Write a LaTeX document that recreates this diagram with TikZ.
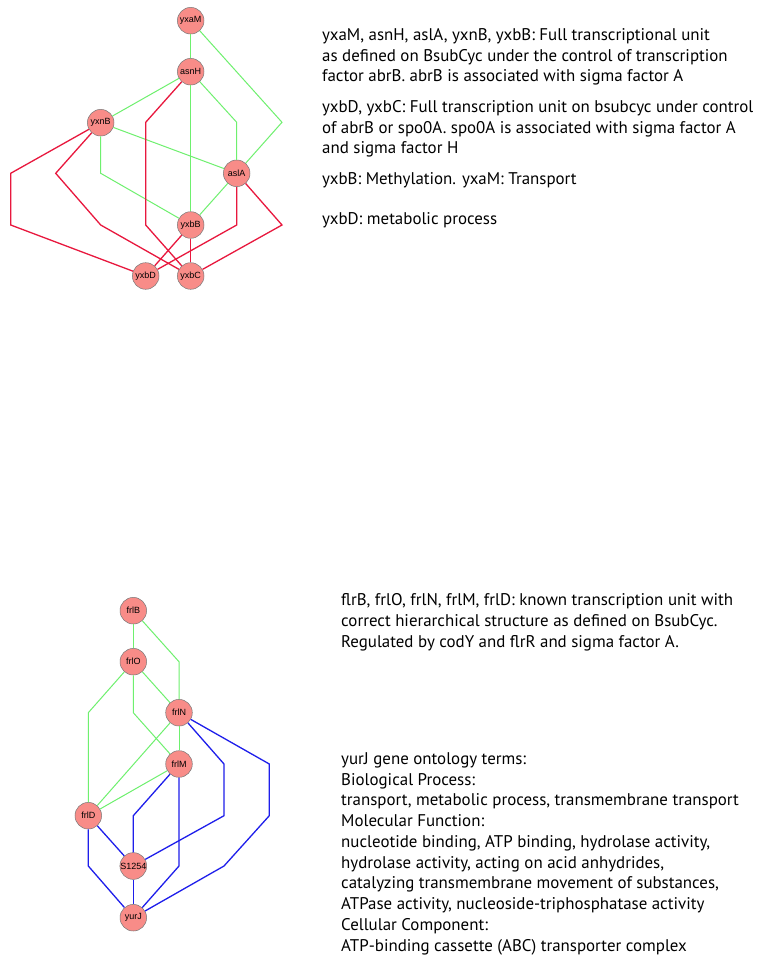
\documentclass[tikz,border=0pt]{standalone}
\usepackage{fontspec}
\setmainfont{PT Sans}
\newfontfamily\genefont{Liberation Sans}
\definecolor{genefill}{RGB}{248,140,136}
\definecolor{geneedge}{RGB}{120,120,120}
\definecolor{lgreen}{RGB}{110,240,110}
\definecolor{lred}{RGB}{232,24,62}
\definecolor{lblue}{RGB}{30,30,235}
\tikzset{
  gene/.style={circle, minimum size=26.6pt, inner sep=0pt, fill=genefill,
    draw=geneedge, line width=0.5pt, font=\genefont\fontsize{9}{10}\selectfont},
  gedge/.style={lgreen, line width=1pt},
  redge/.style={lred, line width=1.3pt},
  bedge/.style={lblue, line width=1.3pt},
  % multi-line notes are anchored at the baseline of their last line
  note/.style={anchor=base west, align=left, inner sep=0pt,
    font=\fontsize{16.9}{20.4}\selectfont},
  longnote/.style={note, font=\fontsize{16.9}{20.75}\selectfont},
}
\begin{document}
\begin{tikzpicture}[x=1pt, y=-1pt]
\useasboundingbox[fill=white] (0,0) rectangle (757,955);

% ---------- upper network ----------
\coordinate (u1) at (282,122.3);
\coordinate (u2) at (236.7,122.3);
\coordinate (u3) at (100.7,173.3);
\coordinate (r1a) at (145.7,122.3);
\coordinate (r1b) at (145.7,225);
\coordinate (r2a) at (10.7,173.3);
\coordinate (r2b) at (10.7,225);
\coordinate (r3a) at (55.7,173.3);
\coordinate (r3b) at (100.7,225);
\coordinate (r4) at (236.7,225);
\coordinate (r5) at (282,225);

\node[gene] (yxaM) at (190.7,20.7) {yxaM};
\node[gene] (asnH) at (190.7,71.7) {asnH};
\node[gene] (yxnB) at (100.7,122.7) {yxnB};
\node[gene] (aslA) at (236.7,173.3) {aslA};
\node[gene] (yxbB) at (190.7,225) {yxbB};
\node[gene] (yxbD) at (145.7,276) {yxbD};
\node[gene] (yxbC) at (190.7,276) {yxbC};

% ---------- lower network ----------
\coordinate (g1) at (179,661.7);
\coordinate (g2) at (88.3,712.7);
\coordinate (g3) at (133.3,712.7);
\coordinate (b1a) at (224,764);
\coordinate (b1b) at (224,815.7);
\coordinate (b2a) at (269.3,764);
\coordinate (b2b) at (269.3,815.7);
\coordinate (b2c) at (224,866);
\coordinate (b3) at (133.3,815.7);
\coordinate (b4) at (179,866);
\coordinate (b5) at (88.3,866);

\node[gene] (frlB) at (133.3,610.7) {frlB};
\node[gene] (frlO) at (133.3,661.7) {frlO};
\node[gene] (frlN) at (179,712.7) {frlN};
\node[gene] (frlM) at (179,764) {frlM};
\node[gene] (frlD) at (88.3,815.7) {frlD};
\node[gene] (S1254) at (133.3,866) {S1254};
\node[gene] (yurJ) at (133.3,917.7) {yurJ};

% connectors of the upper network
\draw[gedge] (yxaM) -- (asnH);
\draw[gedge] (yxaM) -- (u1) -- (aslA);
\draw[gedge] (asnH) -- (yxnB);
\draw[gedge] (asnH) -- (yxbB);
\draw[gedge] (asnH) -- (u2) -- (aslA);
\draw[gedge] (yxnB) -- (aslA);
\draw[gedge] (yxnB) -- (u3) -- (yxbB);
\draw[gedge] (aslA) -- (yxbB);
\draw[redge] (asnH) -- (r1a) -- (r1b) -- (yxbC);
\draw[redge] (yxnB) -- (r2a) -- (r2b) -- (yxbD);
\draw[redge] (yxnB) -- (r3a) -- (r3b) -- (yxbC);
\draw[redge] (aslA) -- (r4) -- (yxbD);
\draw[redge] (aslA) -- (r5) -- (yxbC);
\draw[redge] (yxbB) -- (yxbD);
\draw[redge] (yxbB) -- (yxbC);

% connectors of the lower network
\draw[gedge] (frlB) -- (frlO);
\draw[gedge] (frlB) -- (g1) -- (frlN);
\draw[gedge] (frlO) -- (g2) -- (frlD);
\draw[gedge] (frlO) -- (frlN);
\draw[gedge] (frlO) -- (g3) -- (frlM);
\draw[gedge] (frlN) -- (frlM);
\draw[gedge] (frlN) -- (frlD);
\draw[gedge] (frlM) -- (frlD);
\draw[bedge] (frlN) -- (b1a) -- (b1b) -- (S1254);
\draw[bedge] (frlN) -- (b2a) -- (b2b) -- (b2c) -- (yurJ);
\draw[bedge] (frlM) -- (b3) -- (S1254);
\draw[bedge] (frlM) -- (b4) -- (yurJ);
\draw[bedge] (frlD) -- (S1254);
\draw[bedge] (frlD) -- (b5) -- (yurJ);
\draw[bedge] (S1254) -- (yurJ);

% ---------- notes ----------
\node[note] (n1) at (322,81.5) {yxaM, asnH, aslA, yxnB, yxbB: Full transcriptional unit\\
as defined on BsubCyc under the control of transcription\\
factor abrB. abrB is associated with sigma factor A};
\node[note] (n2) at (322,153.5) {yxbD, yxbC: Full transcription unit on bsubcyc under control\\
of abrB or spo0A. spo0A is associated with sigma factor A\\
and sigma factor H};
\node[note] (n3) at (322,184) {yxbB: Methylation. yxaM: Transport};
\node[note] (n4) at (322,224.5) {yxbD: metabolic process};
\node[longnote] (n5) at (341,647) {flrB, frlO, frlN, frlM, frlD: known transcription unit with\\
correct hierarchical structure as defined on BsubCyc.\\
Regulated by codY and flrR and sigma factor A.};
\node[longnote] (n6) at (341,951) {yurJ gene ontology terms:\\
Biological Process:\\
transport, metabolic process, transmembrane transport\\
Molecular Function:\\
nucleotide binding, ATP binding, hydrolase activity,\\
hydrolase activity, acting on acid anhydrides,\\
catalyzing transmembrane movement of substances,\\
ATPase activity, nucleoside-triphosphatase activity\\
Cellular Component:\\
ATP-binding cassette (ABC) transporter complex};
\end{tikzpicture}
\end{document}
